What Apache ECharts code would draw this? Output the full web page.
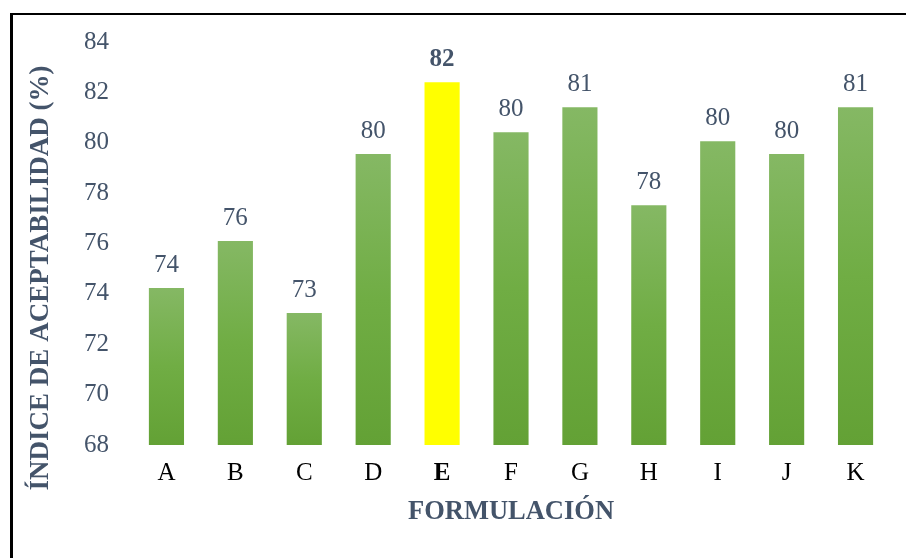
<!DOCTYPE html>
<html>
<head>
<meta charset="utf-8">
<script src="https://cdn.jsdelivr.net/npm/echarts@6/dist/echarts.min.js"></script>
<style>
html,body{margin:0;padding:0;background:#fff;}
#chart{width:906px;height:558px;}
</style>
</head>
<body>
<div id="chart"></div>
<script>
const categories = ['A','B','C','D','E','F','G','H','I','J','K'];
const values = [74.23, 76.1, 73.24, 79.55, 82.4, 80.42, 81.41, 77.52, 80.06, 79.55, 81.41];
const highlight = 'E';
const yTicks = [68, 70, 72, 74, 76, 78, 80, 82, 84];
const yTitle = 'ÍNDICE DE ACEPTABILIDAD (%)';
const xTitle = 'FORMULACIÓN';

const chart = echarts.init(document.getElementById('chart'), null, {renderer:'canvas'});
const serif = '"Liberation Serif", "Times New Roman", serif';
const slate = '#44546A';
const greenGrad = new echarts.graphic.LinearGradient(0,0,0,1,[
  {offset:0, color:'#85B864'},
  {offset:0.5, color:'#70AD44'},
  {offset:1, color:'#63A135'}
]);

const data = values.map((v,i) => {
  const isH = categories[i] === highlight;
  return {
    value: v,
    itemStyle: { color: isH ? '#FFFF00' : greenGrad },
    label: isH ? { fontWeight: 'bold' } : {}
  };
});

chart.setOption({
  backgroundColor: '#fff',
  animation: false,
  grid: { left: 132, right: 16, top: 42, bottom: 113 },
  xAxis: {
    type: 'category',
    data: categories,
    axisLine: { show: false },
    axisTick: { show: false },
    axisLabel: {
      interval: 0,
      margin: 16,
      color: '#000',
      fontFamily: serif,
      fontSize: 25,
      formatter: v => v === highlight ? '{b|' + v + '}' : v,
      rich: { b: { fontWeight: 'bold', fontFamily: serif, fontSize: 25, color: '#000' } }
    },
    name: xTitle,
    nameLocation: 'middle',
    nameGap: 54,
    nameTextStyle: { color: slate, fontFamily: serif, fontSize: 26.5, fontWeight: 'bold' }
  },
  yAxis: {
    type: 'value',
    min: yTicks[0],
    max: yTicks[yTicks.length-1],
    interval: 2,
    splitLine: { show: false },
    axisLine: { show: false },
    axisTick: { show: false },
    axisLabel: { margin: 23, color: slate, fontFamily: serif, fontSize: 25 }
  },
  series: [{
    type: 'bar',
    data: data,
    barWidth: '51%',
    label: {
      show: true,
      position: 'top',
      distance: 10,
      color: slate,
      fontFamily: serif,
      fontSize: 25,
      formatter: p => Math.round(p.value)
    }
  }],
  graphic: [
    { type: 'line', shape: { x1: 11.5, y1: 13, x2: 11.5, y2: 558 }, style: { stroke: '#000', lineWidth: 3 } },
    { type: 'line', shape: { x1: 10, y1: 14, x2: 906, y2: 14 }, style: { stroke: '#000', lineWidth: 2 } },
    { type: 'text', x: 41, y: 278, rotation: Math.PI/2,
      style: { text: yTitle, fill: slate, font: 'bold 27px ' + serif, align: 'center', verticalAlign: 'middle' } }
  ]
});
</script>
</body>
</html>
